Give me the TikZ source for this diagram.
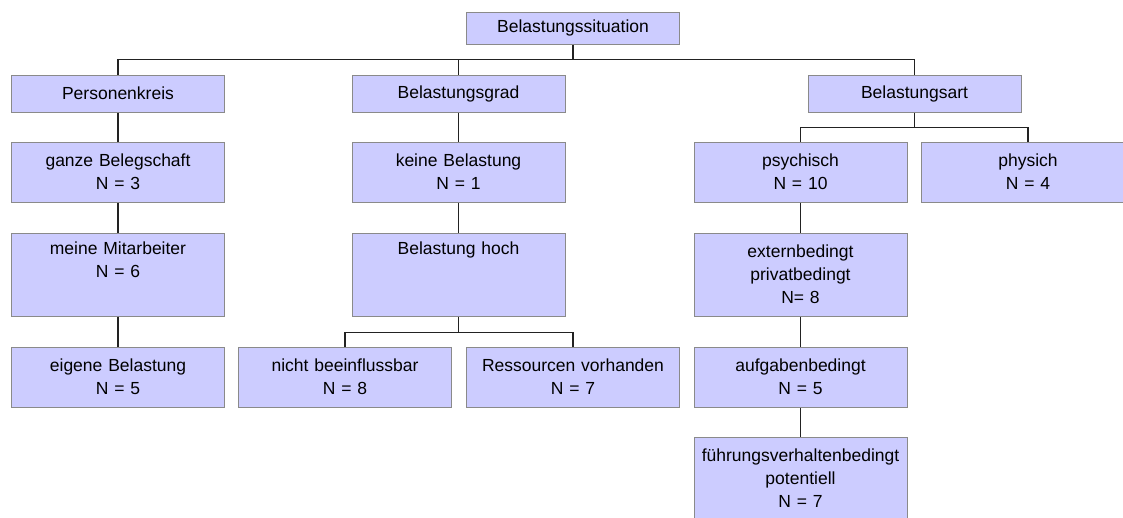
\documentclass[tikz,border=0pt]{standalone}
\usepackage{fontspec}
\setmainfont{Liberation Sans}
\usepackage{tikz}
\definecolor{boxfill}{HTML}{CCCCFF}
\definecolor{boxline}{HTML}{8A8A8A}
\definecolor{linkline}{HTML}{222222}

\begin{document}
\begin{tikzpicture}[x=1pt,y=-1pt,
		kasten/.style={draw=boxline, fill=boxfill, line width=1pt, inner sep=0pt, minimum width=213pt, text width=210pt, align=center, font=\fontsize{17.5}{23}\selectfont},
		eins/.style={kasten, minimum height=37pt},
		zwei/.style={kasten, minimum height=60pt},
		drei/.style={kasten, minimum height=83pt},
		link/.style={draw=linkline, line width=1.2pt}]
		\clip (0,0) rectangle (1123,517);
		\node (sit) [eins, minimum height=32pt] at (573,28) {Belastungssituation};
		\node (pk) [eins] at (118,93.5) {Personenkreis};
		\node (bg) [eins] at (458.5,93.5) {Belastungsgrad};
		\node (ba) [eins] at (914.5,93.5) {Belastungsart};
		\node (gb) [zwei] at (118,172) {ganze Belegschaft\\ N = 3};
		\node (kb) [zwei] at (458.5,172) {keine Belastung\\ N = 1};
		\node (ps) [zwei] at (800.5,172) {psychisch\\ N = 10};
		\node (ph) [zwei] at (1028,172) {physich\\ N = 4};
		\node (mm) [drei] at (118,274.5) {meine Mitarbeiter\\ N = 6\\ \strut};
		\node (bh) [drei] at (458.5,274.5) {Belastung hoch\\ \strut\\ \strut};
		\node (ep) [drei] at (800.5,274.5) {externbedingt\\ privatbedingt\\ N= 8};
		\node (eb) [zwei] at (118,377) {eigene Belastung\\ N = 5};
		\node (nb) [zwei] at (345,377) {nicht beeinflussbar\\ N = 8};
		\node (rv) [zwei] at (573,377) {Ressourcen vorhanden\\ N = 7};
		\node (ab) [zwei] at (800.5,377) {aufgabenbedingt\\ N = 5};
		\node (fv) [drei] at (800.5,478.5) {führungsverhaltenbedingt\\ potentiell\\ N = 7};
		\path[link]
		(sit.south) -- ++(0,15) -| (pk.north)
		(sit.south) -- ++(0,15) -| (bg.north)
		(sit.south) -- ++(0,15) -| (ba.north)
		(ba.south) -- ++(0,15) -| (ps.north)
		(ba.south) -- ++(0,15) -| (ph.north)
		(bh.south) -- ++(0,16) -| (nb.north)
		(bh.south) -- ++(0,16) -| (rv.north)
		;
		\path[link]
		(pk) -- (gb) (gb) -- (mm) (mm) -- (eb)
		(bg) -- (kb) (kb) -- (bh)
		(ps) -- (ep) (ep) -- (ab) (ab) -- (fv)
		;
	\end{tikzpicture}
\end{document}
